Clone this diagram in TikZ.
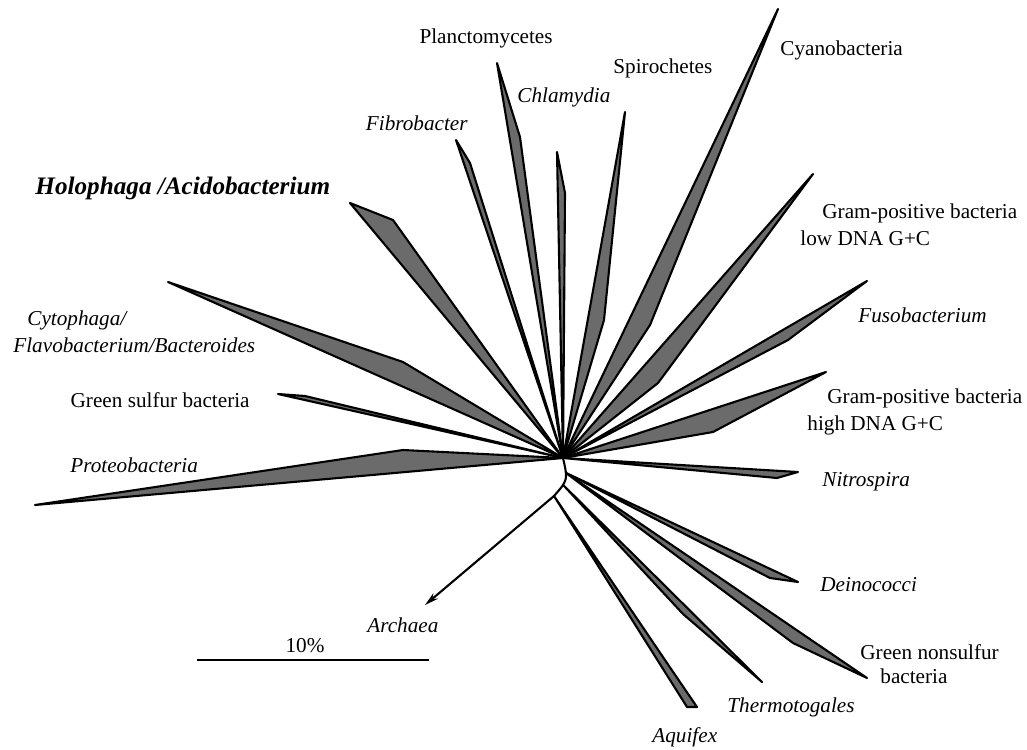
\documentclass[tikz,border=0pt]{standalone}
\usepackage{fontspec}
\setmainfont{Liberation Serif}
\usetikzlibrary{arrows.meta,positioning}
\definecolor{wedgegray}{gray}{0.42}

\begin{document}
\begin{tikzpicture}[x=0.5pt, y=-0.5pt,
  every node/.style={font=\fontsize{10.6}{12}\selectfont, inner sep=0pt},
  branch/.style={line width=1.05pt, line join=round},
  clade/.style={branch, fill=wedgegray}]
  \useasboundingbox (0,0) rectangle (1027,749);

  \coordinate (hub) at (563,458);
  \coordinate (fork) at (554,496);
  \draw[branch] (hub) .. controls (568,480) .. (fork)
    coordinate[pos=0.3] (dfork) coordinate[pos=0.7] (tfork);

  \coordinate (proT) at (35,505);   \coordinate (proK) at (403,450);
  \coordinate (gsbT) at (278,394);  \coordinate (gsbK) at (305,396);
  \coordinate (cytT) at (168,282);  \coordinate (cytK) at (403,362);
  \coordinate (holT) at (350,203);  \coordinate (holK) at (393,220);
  \coordinate (fibT) at (456,140);  \coordinate (fibK) at (470,163);
  \coordinate (plaT) at (497,63);   \coordinate (plaK) at (520,137);
  \coordinate (chlT) at (557,152);  \coordinate (chlK) at (565,193);
  \coordinate (spiT) at (625,112);  \coordinate (spiK) at (604,320);
  \coordinate (cyaT) at (778,9);    \coordinate (cyaK) at (650,325);
  \coordinate (gplT) at (813,174);  \coordinate (gplK) at (658,383);
  \coordinate (fusT) at (867,281);  \coordinate (fusK) at (788,340);
  \coordinate (gphT) at (826,372);  \coordinate (gphK) at (713,432);
  \coordinate (nitT) at (798,472);  \coordinate (nitK) at (777,478);
  \coordinate (deiT) at (798,582);  \coordinate (deiK) at (770,578);
  \coordinate (gnsT) at (867,678);  \coordinate (gnsK) at (793,643);
  \coordinate (theT) at (762,682);  \coordinate (theK) at (683,614);
  \coordinate (aquT) at (697,707);  \coordinate (aquL) at (687,707);
  \coordinate (aquK) at (667,663);
  \coordinate (arcT) at (425,605);

  \filldraw[clade] (hub) -- (proT) -- (proK) -- cycle;
  \filldraw[clade] (hub) -- (gsbT) -- (gsbK) -- cycle;
  \filldraw[clade] (hub) -- (cytT) -- (cytK) -- cycle;
  \filldraw[clade] (hub) -- (holT) -- (holK) -- cycle;
  \filldraw[clade] (hub) -- (fibT) -- (fibK) -- cycle;
  \filldraw[clade] (hub) -- (plaT) -- (plaK) -- cycle;
  \filldraw[clade] (hub) -- (chlT) -- (chlK) -- cycle;
  \filldraw[clade] (hub) -- (spiT) -- (spiK) -- cycle;
  \filldraw[clade] (hub) -- (cyaT) -- (cyaK) -- cycle;
  \filldraw[clade] (hub) -- (gplT) -- (gplK) -- cycle;
  \filldraw[clade] (hub) -- (fusT) -- (fusK) -- cycle;
  \filldraw[clade] (hub) -- (gphT) -- (gphK) -- cycle;
  \filldraw[clade] (hub) -- (nitT) -- (nitK) -- cycle;
  \filldraw[clade] (dfork) -- (deiT) -- (deiK) -- cycle;
  \filldraw[clade] (dfork) -- (gnsT) -- (gnsK) -- cycle;
  \filldraw[clade] (tfork) -- (theT) -- (theK) -- cycle;
  \filldraw[clade] (fork) -- (aquL) -- (aquT) -- (aquK) -- cycle;
  \draw[branch, -{Stealth[length=7pt, width=3.6pt]}] (fork) -- (arcT);

  \node[anchor=east] (plaL) at (553,38) {Planctomycetes};
  \node[anchor=west] (spiL) at (613,68) {Spirochetes};
  \node[anchor=west] (chlL) at (517,97) {\itshape Chlamydia};
  \node[anchor=west] (cyaL) at (780,50) {Cyanobacteria};
  \node[anchor=east] (fibL) at (468,123) {\itshape Fibrobacter};
  \node[anchor=west, font=\fontsize{12.6}{14}\selectfont\bfseries\itshape] (holL) at (35,188) {Holophaga /Acidobacterium};
  \node[anchor=west] (cytL) at (27,320) {\itshape Cytophaga/};
  \node[anchor=west] (flaL) at (13,345) {\itshape Flavobacterium/Bacteroides};
  \node[anchor=east] (gsbL) at (250,400) {Green sulfur bacteria};
  \node[anchor=west] (proL) at (70,465) {\itshape Proteobacteria};
  \node[anchor=west] (gplL) at (822,213) {Gram-positive bacteria};
  \node[anchor=west] (lowL) at (800,238) {low DNA G+C};
  \node[anchor=west] (fusL) at (858,315) {\itshape Fusobacterium};
  \node[anchor=west] (gphL) at (827,398) {Gram-positive bacteria};
  \node[anchor=west] (higL) at (807,425) {high DNA G+C};
  \node[anchor=west] (nitL) at (822,482) {\itshape Nitrospira};
  \node[anchor=west] (deiL) at (820,585) {\itshape Deinococci};
  \node[anchor=west] (gnsL) at (860,652) {Green nonsulfur};
  \node[anchor=west] (bacL) at (880,676) {bacteria};
  \node[anchor=west] (theL) at (727,707) {\itshape Thermotogales};
  \node[anchor=west] (aquL2) at (652,737) {\itshape Aquifex};
  \node[anchor=west] (arcL) at (367,625) {\itshape Archaea};

  \coordinate (barA) at (197,660);
  \coordinate (barB) at (429,660);
  \draw[line width=1.05pt] (barA) -- (barB);
  \node (barL) at (305,646) {10\%};
\end{tikzpicture}
\end{document}
